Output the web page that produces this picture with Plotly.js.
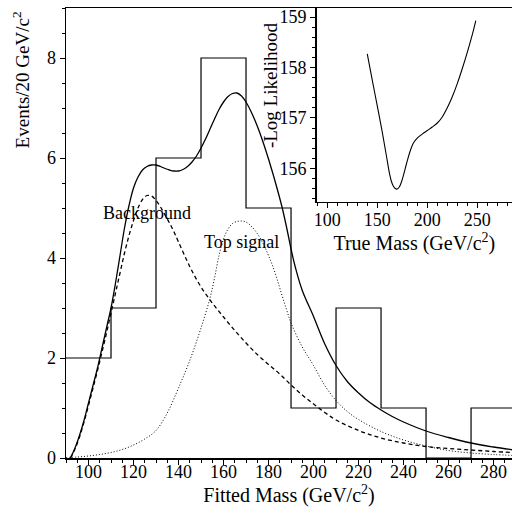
<!DOCTYPE html>
<html>
<head>
<meta charset="utf-8">
<script src="https://cdn.plot.ly/plotly-3.0.1.min.js"></script>
<style>html,body{margin:0;padding:0;background:#fff;}</style>
</head>
<body>
<div id="chart" style="width:512px;height:517px;"></div>
<script>
// Histogram: fitted mass bins (GeV/c^2) and event counts
const binEdges = [90, 110, 130, 150, 170, 190, 210, 230, 250, 270, 290];
const binCounts = [2, 3, 6, 8, 5, 1, 3, 1, 0, 1];

// Total fit (solid)
const totalMass = [92, 94, 96, 98, 100, 102, 104, 106, 108, 110, 112, 114, 116, 118, 120, 122, 124, 126, 128, 130, 132, 134, 136, 138, 140, 142, 144, 146, 148, 150, 152, 154, 156, 158, 160, 162, 164, 166, 168, 170, 172, 174, 176, 178, 180, 182, 184, 186, 188, 190, 192, 195, 200, 205, 210, 215, 220, 225, 230, 235, 240, 250, 260, 270, 280, 289];
const totalFit = [0, 0.2, 0.45, 0.75, 1.1, 1.45, 1.8, 2.2, 2.6, 3.0, 3.5, 4.05, 4.6, 5.05, 5.4, 5.62, 5.76, 5.83, 5.86, 5.86, 5.83, 5.79, 5.76, 5.74, 5.74, 5.77, 5.83, 5.92, 6.04, 6.2, 6.38, 6.58, 6.78, 6.97, 7.12, 7.23, 7.29, 7.3, 7.24, 7.12, 6.95, 6.75, 6.52, 6.26, 5.98, 5.68, 5.36, 5.02, 4.62, 4.18, 3.8, 3.35, 2.83, 2.28, 1.85, 1.53, 1.3, 1.11, 0.96, 0.83, 0.72, 0.54, 0.41, 0.3, 0.22, 0.16];

// Background (dashed)
const bgMass = [92, 94, 96, 98, 100, 102, 104, 106, 108, 110, 112, 114, 116, 118, 120, 122, 124, 126, 128, 130, 132, 134, 136, 138, 140, 143, 146, 150, 155, 160, 165, 170, 175, 180, 185, 190, 195, 200, 205, 210, 220, 230, 240, 250, 260, 270, 280, 289];
const bgFit = [0, 0.18, 0.42, 0.72, 1.05, 1.4, 1.75, 2.12, 2.5, 2.9, 3.3, 3.7, 4.1, 4.45, 4.75, 5.0, 5.17, 5.25, 5.24, 5.15, 5.02, 4.86, 4.7, 4.52, 4.32, 4.02, 3.74, 3.42, 3.1, 2.82, 2.55, 2.3, 2.07, 1.87, 1.68, 1.46, 1.26, 1.08, 0.91, 0.76, 0.55, 0.4, 0.3, 0.23, 0.19, 0.16, 0.13, 0.11];

// Top signal (dotted)
const sigMass = [90, 95, 100, 105, 110, 115, 120, 125, 130, 135, 140, 145, 150, 154, 156, 158, 160, 162, 164, 166, 168, 170, 172, 174, 176, 178, 180, 182, 184, 186, 188, 190, 195, 200, 205, 210, 215, 220, 230, 240, 250, 260, 270, 280, 289];
const sigFit = [0.01, 0.02, 0.04, 0.07, 0.11, 0.17, 0.26, 0.38, 0.55, 0.9, 1.4, 1.95, 2.6, 3.2, 3.6, 4.05, 4.38, 4.58, 4.69, 4.73, 4.74, 4.72, 4.65, 4.55, 4.42, 4.25, 4.05, 3.82, 3.55, 3.25, 2.97, 2.7, 2.22, 1.85, 1.45, 1.15, 0.93, 0.77, 0.53, 0.36, 0.24, 0.15, 0.1, 0.07, 0.05];

// Inset: -log likelihood vs true mass
const trueMass = [140, 145, 150, 155, 158, 160, 162, 164, 166, 168, 170, 172, 174, 176, 178, 180, 183, 186, 190, 195, 200, 205, 210, 215, 220, 225, 230, 235, 240, 245, 248.5];
const negLogL = [158.27, 157.75, 157.24, 156.72, 156.38, 156.15, 155.92, 155.75, 155.65, 155.6, 155.59, 155.63, 155.72, 155.85, 156.0, 156.15, 156.35, 156.5, 156.6, 156.68, 156.75, 156.82, 156.9, 157.02, 157.2, 157.42, 157.68, 157.98, 158.3, 158.65, 158.93];

const labelBackground = "Background";
const labelSignal = "Top signal";

// histogram as step outline
const histX = binEdges.slice();
const histY = binCounts.concat([binCounts[binCounts.length - 1]]);

const FONT = "Liberation Serif, Times New Roman, serif";

const traces = [
  {x: histX, y: histY, type: 'scatter', mode: 'lines', line: {shape: 'hv', color: '#000', width: 1.2}, xaxis: 'x', yaxis: 'y', hoverinfo: 'skip'},
  {x: bgMass, y: bgFit, type: 'scatter', mode: 'lines', line: {color: '#000', width: 1.3, dash: '4px,3px', shape: 'spline'}, xaxis: 'x', yaxis: 'y'},
  {x: sigMass, y: sigFit, type: 'scatter', mode: 'lines', line: {color: '#000', width: 1, dash: '1px,2px', shape: 'spline'}, xaxis: 'x', yaxis: 'y'},
  {x: totalMass, y: totalFit, type: 'scatter', mode: 'lines', line: {color: '#000', width: 1.3, shape: 'spline'}, xaxis: 'x', yaxis: 'y'},
  {x: trueMass, y: negLogL, type: 'scatter', mode: 'lines', line: {color: '#000', width: 1.1, shape: 'spline'}, xaxis: 'x2', yaxis: 'y2'}
];

const axisCommon = {
  showline: true, linecolor: '#000', linewidth: 1.5, showgrid: false, zeroline: false,
  ticks: 'outside', ticklen: 5, tickwidth: 1, tickcolor: '#000',
  tickfont: {family: FONT, size: 18, color: '#000'}
};

const layout = {
  width: 512, height: 517,
  margin: {l: 66, r: 0, t: 8, b: 59},
  paper_bgcolor: '#fff', plot_bgcolor: 'rgba(0,0,0,0)',
  showlegend: false,
  font: {family: FONT, color: '#000'},
  xaxis: Object.assign({}, axisCommon, {
    range: [90, 288.2], dtick: 20, tick0: 100, mirror: true, ticklabelstandoff: -8,
    minor: {dtick: 5, tick0: 100, ticks: 'outside', ticklen: 3, tickcolor: '#000', showgrid: false},
    title: {text: 'Fitted Mass (GeV/c<sup>2</sup>)', font: {family: FONT, size: 20, color: '#000'}, standoff: 2},
    domain: [0, 1], anchor: 'y'
  }),
  yaxis: Object.assign({}, axisCommon, {
    range: [0, 9], dtick: 2, tick0: 0,
    minor: {dtick: 0.5, ticks: 'outside', ticklen: 3, tickcolor: '#000', showgrid: false},
    domain: [0, 1], anchor: 'x'
  }),
  xaxis2: Object.assign({}, axisCommon, {
    range: [89.4, 284.7], dtick: 50, tick0: 100, mirror: true, ticklabelstandoff: -4,
    minor: {dtick: 10, tick0: 100, ticks: 'outside', ticklen: 3, tickcolor: '#000', showgrid: false},
    title: {text: 'True Mass (GeV/c<sup>2</sup>)', font: {family: FONT, size: 20, color: '#000'}, standoff: 2},
    domain: [0.562, 1], anchor: 'y2'
  }),
  yaxis2: Object.assign({}, axisCommon, {
    range: [155.34, 159.18], dtick: 1, tick0: 156,
    minor: {dtick: 0.2, ticks: 'outside', ticklen: 3, tickcolor: '#000', showgrid: false},
    domain: [0.5696, 1], anchor: 'x2'
  }),
  annotations: [
    {text: 'Events/20 GeV/c<sup>2</sup>', textangle: -90, xref: 'paper', yref: 'paper',
     x: -0.1, xshift: 0, y: 0.84, xanchor: 'center', yanchor: 'middle', showarrow: false,
     font: {family: FONT, size: 19, color: '#000'}},
    {text: '-Log Likelihood', textangle: -90, xref: 'paper', yref: 'paper',
     x: 0.459, y: 0.828, xanchor: 'center', yanchor: 'middle', showarrow: false,
     font: {family: FONT, size: 19, color: '#000'}},
    {text: labelBackground, xref: 'x', yref: 'y', x: 126.2, y: 4.9, showarrow: false,
     xanchor: 'center', yanchor: 'middle', font: {family: FONT, size: 18, color: '#000'}},
    {text: labelSignal, xref: 'x', yref: 'y', x: 168.1, y: 4.32, showarrow: false,
     xanchor: 'center', yanchor: 'middle', font: {family: FONT, size: 18, color: '#000'}}
  ]
};

Plotly.newPlot('chart', traces, layout, {staticPlot: true, displayModeBar: false});
</script>
</body>
</html>
